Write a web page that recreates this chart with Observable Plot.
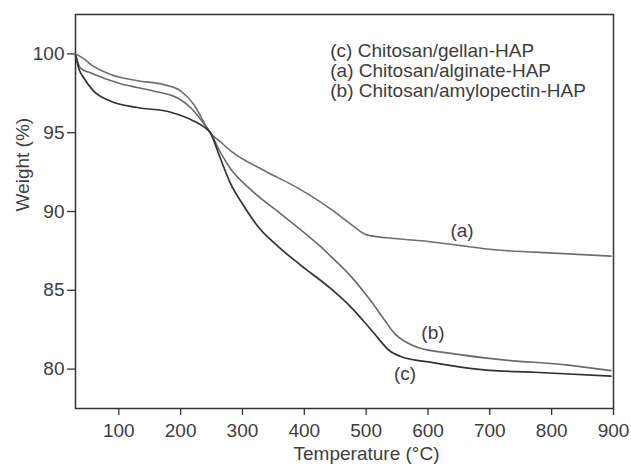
<!DOCTYPE html>
<html><head><meta charset="utf-8">
<script src="https://cdn.jsdelivr.net/npm/d3@7"></script>
<script src="https://cdn.jsdelivr.net/npm/@observablehq/plot@0.6"></script>
<style>html,body{margin:0;padding:0;background:#fff}</style>
</head><body><div id="chart"></div>
<script>
// (a) Chitosan/alginate-HAP
const tempA   = [30, 45, 54, 87, 130, 173, 200, 221, 240, 248, 265, 281, 335, 389, 443, 475, 502, 551, 600, 650, 700, 772, 896];
const weightA = [100, 99.65, 99.35, 98.7, 98.3, 98.05, 97.65, 96.8, 95.5, 95.0, 94.4, 93.85, 92.6, 91.5, 90.15, 89.2, 88.5, 88.27, 88.1, 87.85, 87.6, 87.42, 87.17];
// (b) Chitosan/amylopectin-HAP
const tempB   = [30, 38, 54, 103, 156, 195, 216, 237, 248, 265, 281, 313, 362, 394, 427, 443, 475, 508, 530, 545, 565, 585, 637, 718, 827, 896];
const weightB = [100, 99.1, 98.8, 98.1, 97.65, 97.2, 96.6, 95.6, 95.0, 93.7, 92.7, 91.4, 89.85, 88.85, 87.75, 87.15, 85.9, 84.3, 83.1, 82.3, 81.7, 81.35, 81.0, 80.6, 80.25, 79.9];
// (c) Chitosan/gellan-HAP
const tempC   = [30, 36, 43, 59, 87, 130, 184, 221, 240, 248, 262, 281, 303, 324, 357, 394, 443, 475, 508, 540, 556, 610, 691, 772, 896];
const weightC = [99.9, 99.0, 98.5, 97.65, 97.0, 96.6, 96.3, 95.75, 95.3, 95.0, 93.6, 91.75, 90.3, 89.1, 87.8, 86.6, 85.1, 83.95, 82.5, 81.1, 80.8, 80.4, 79.95, 79.8, 79.55];

const legendLines = ["(c) Chitosan/gellan-HAP", "(a) Chitosan/alginate-HAP", "(b) Chitosan/amylopectin-HAP"];
const legendT = [442, 442, 442];
const legendW = [100.19, 98.92, 97.66];

const curveLabels = ["(a)", "(b)", "(c)"];
const curveLabelT = [655, 608, 563];
const curveLabelW = [88.8, 82.28, 79.68];

const xTicks = [100, 200, 300, 400, 500, 600, 700, 800, 900];
const yTicks = [80, 85, 90, 95, 100];

const series = (t, w, name) => t.map((d, i) => ({T: d, W: w[i], s: name}));
const dataA = series(tempA, weightA, "a");
const dataB = series(tempB, weightB, "b");
const dataC = series(tempC, weightC, "c");

const FONT = "'Liberation Sans', Arial, Helvetica, sans-serif";
const TXT = "#3d3d3d";

const chart = Plot.plot({
  width: 631,
  height: 467,
  marginLeft: 75,
  marginRight: 18,
  marginTop: 14,
  marginBottom: 59,
  style: {fontFamily: FONT, fontSize: "19px", color: TXT, background: "#fff"},
  x: {domain: [30, 900]},
  y: {domain: [77.5, 102.5]},
  marks: [
    Plot.axisX({ticks: xTicks, tickSize: 7, tickPadding: 8, fontSize: 19, stroke: "#333", strokeWidth: 1.3, label: null, fill: TXT}),
    Plot.axisY({ticks: yTicks, tickSize: 8, tickPadding: 3, fontSize: 19, stroke: "#333", strokeWidth: 1.3, label: null, fill: TXT}),
    Plot.frame({stroke: "#333", strokeWidth: 1.5}),
    Plot.line(dataA, {x: "T", y: "W", stroke: "#6e6e6e", strokeWidth: 1.6, curve: "monotone-x"}),
    Plot.line(dataB, {x: "T", y: "W", stroke: "#6a6a6a", strokeWidth: 1.6, curve: "monotone-x"}),
    Plot.line(dataC, {x: "T", y: "W", stroke: "#333", strokeWidth: 1.7, curve: "monotone-x"}),
    Plot.text(legendLines, {x: (d, i) => legendT[i], y: (d, i) => legendW[i], text: d => d, textAnchor: "start", fontSize: 19, fill: TXT}),
    Plot.text(curveLabels, {x: (d, i) => curveLabelT[i], y: (d, i) => curveLabelW[i], text: d => d, fontSize: 19, fill: TXT}),
    Plot.text(["Temperature (°C)"], {frameAnchor: "bottom", dx: 22, dy: 51, text: d => d, fontSize: 19, fill: TXT}),
    Plot.text(["Weight (%)"], {frameAnchor: "left", dx: -53, rotate: -90, text: d => d, fontSize: 19, fill: TXT})
  ]
});
document.getElementById("chart").appendChild(chart);
</script>
</body></html>
